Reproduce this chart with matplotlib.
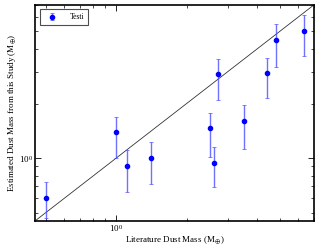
import numpy as np
import matplotlib.pyplot as plt

plt.rcParams['font.family'] = 'Liberation Serif'
plt.rcParams['mathtext.fontset'] = 'stix'

# literature vs estimated dust mass (Earth masses)
lit_mass = [0.50, 1.00, 1.11, 1.41, 2.52, 2.61, 2.73, 3.53, 4.43, 4.83, 6.35]
est_mass = [0.60, 1.39, 0.90, 1.00, 1.46, 0.94, 2.92, 1.61, 2.95, 4.47, 5.01]
est_low = [0.47, 1.00, 0.65, 0.72, 1.01, 0.69, 2.08, 1.12, 2.15, 3.18, 3.65]
est_high = [0.74, 1.68, 1.11, 1.22, 1.78, 1.15, 3.52, 1.97, 3.56, 5.47, 6.12]

lims = [0.45, 7.0]

est = np.array(est_mass)
yerr = [est - np.array(est_low), np.array(est_high) - est]

fig = plt.figure(figsize=(3.21, 2.45), dpi=100)
ax = fig.add_axes([0.109, 0.098, 0.869, 0.882])

ax.plot(lims, lims, color='k', lw=0.6, alpha=0.8)
ax.errorbar(lit_mass, est_mass, yerr=yerr, fmt='o', color='blue', ms=3,
            ecolor=(0.3, 0.3, 1.0, 0.8), elinewidth=1.0, capsize=1.5,
            capthick=0.6, label='Testi')

ax.set_xscale('log')
ax.set_yscale('log')
ax.set_xlim(lims)
ax.set_ylim(lims)

ax.tick_params(which='both', direction='in', top=True, right=True, labelsize=6.5, pad=1.5)
ax.tick_params(which='major', length=4, width=0.6)
ax.tick_params(which='minor', length=2, width=0.5)
for s in ax.spines.values():
    s.set_linewidth(1.2)

ax.set_xlabel(r'Literature Dust Mass (M$_{\oplus}$)', fontsize=6.5, labelpad=0)
ax.set_ylabel(r'Estimated Dust Mass from this Study (M$_{\oplus}$)', fontsize=6.5, labelpad=1)

leg = ax.legend(loc='upper left', numpoints=1, fontsize=5.5, fancybox=False,
                edgecolor='0.3', framealpha=1, borderpad=0.5, handlelength=2.2,
                handletextpad=1.2, borderaxespad=0.6)
leg.get_frame().set_linewidth(0.8)

fig.savefig('out.png', dpi=100)
